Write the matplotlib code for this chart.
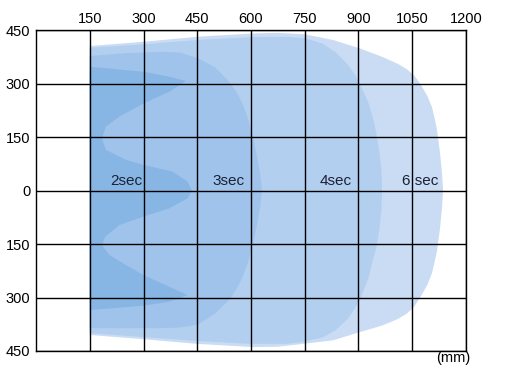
import matplotlib
matplotlib.use("Agg")
import matplotlib.pyplot as plt
from matplotlib import font_manager

# ---- data (mm) ----
x_ticks = [150, 300, 450, 600, 750, 900, 1050, 1200]
y_ticks = [450, 300, 150, 0, -150, -300, -450]
y_tick_labels = ["450", "300", "150", "0", "150", "300", "450"]

# region outlines, clockwise from top-left at x=150
sec6_x = [150, 300, 450, 600, 675, 750, 829, 902, 968, 1010, 1035, 1055, 1072, 1092, 1105, 1113, 1119, 1127, 1133, 1136,
          1133, 1127, 1119, 1113, 1105, 1092, 1072, 1055, 1035, 1010, 968, 904, 829, 745, 675, 606, 450, 300, 150]
sec6_y = [405, 417, 431, 440, 442, 438, 422, 399, 374, 355, 340, 323, 300, 265, 234, 200, 170, 110, 50, 0,
          -50, -110, -170, -198, -232, -265, -300, -326, -345, -360, -378, -397, -420, -430, -438, -439, -430, -417, -405]

sec4_x = [150, 300, 450, 600, 700, 750, 800, 837, 870, 890, 902, 915, 928, 940, 950, 958, 964, 966,
          964, 958, 950, 940, 928, 915, 904, 890, 870, 837, 800, 745, 700, 600, 450, 300, 150]
sec4_y = [400, 410, 422, 430, 431, 427, 412, 387, 353, 325, 303, 275, 245, 205, 160, 110, 55, 0,
          -55, -110, -160, -195, -245, -278, -307, -330, -360, -391, -412, -424, -430, -430, -422, -411, -400]

sec3_x = [150, 250, 350, 402, 452, 500, 541, 560, 578, 592, 605, 616, 625, 631,
          625, 616, 605, 592, 578, 560, 541, 500, 452, 402, 350, 250, 150]
sec3_y = [377, 385, 389, 387, 371, 345, 303, 275, 240, 200, 150, 100, 50, 0,
          -50, -100, -150, -200, -240, -275, -305, -345, -376, -384, -386, -386, -386]

sec2_x = [150, 300, 368, 419, 372, 300, 232, 195, 184, 195, 251, 300, 381, 423, 435,
          423, 372, 300, 232, 193, 184, 205, 251, 300, 372, 423, 372, 300, 150]
sec2_y = [347, 333, 320, 307, 277, 244, 207, 179, 146, 114, 86, 72, 53, 25, 0,
          -22, -50, -73, -97, -130, -153, -181, -209, -237, -270, -293, -312, -323, -335]

labels = ["2sec", "3sec", "4sec", "6 sec"]
label_x = [252, 536, 835, 1071]
label_y = [28, 28, 28, 28]

colors = ["#c9dcf4", "#b3cff0", "#a0c3eb", "#87b6e5"]

# ---- font ----
avail = {f.name for f in font_manager.fontManager.ttflist}
fam = "Liberation Sans Narrow" if "Liberation Sans Narrow" in avail else "Liberation Sans"
plt.rcParams["font.family"] = [fam, "DejaVu Sans"]

fig = plt.figure(figsize=(5.06, 3.81), dpi=100)
ax = fig.add_axes([36 / 506, 1 - 351 / 381, 430 / 506, 321 / 381])

for xs, ys, c in zip([sec6_x, sec4_x, sec3_x, sec2_x],
                     [sec6_y, sec4_y, sec3_y, sec2_y], colors):
    ax.fill(xs, ys, color=c, lw=0, zorder=1)

for t, x, y in zip(labels, label_x, label_y):
    ax.text(x, y, t, ha="center", va="center", fontsize=11, color="#1b2133", zorder=3)

ax.set_xlim(0, 1200)
ax.set_ylim(-450, 450)
ax.set_xticks(x_ticks)
ax.set_xticklabels([str(v) for v in x_ticks])
ax.set_yticks(y_ticks)
ax.set_yticklabels(y_tick_labels)
ax.xaxis.tick_top()
ax.tick_params(axis="both", length=0, labelsize=10.5, colors="black")
ax.tick_params(axis="x", pad=3)
ax.tick_params(axis="y", pad=4)
ax.grid(True, color="black", lw=1.0, zorder=2)
ax.set_axisbelow(False)
for s in ax.spines.values():
    s.set_color("black")
    s.set_linewidth(1.0)
    s.set_zorder(4)

fig.text(470 / 506, 1 - 358 / 381, "(mm)", ha="right", va="center", fontsize=10.5)

fig.savefig("out.png", dpi=100)
